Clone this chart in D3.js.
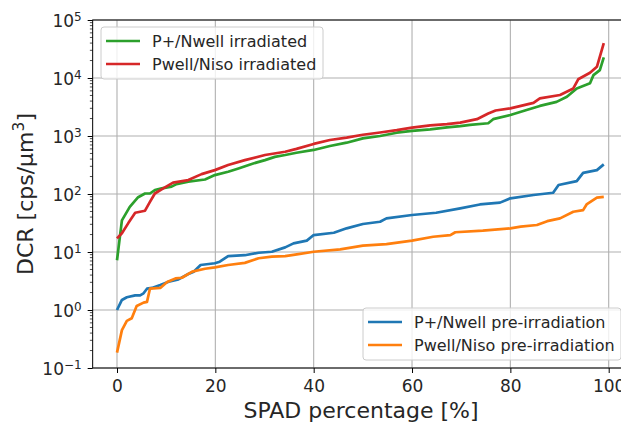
<!DOCTYPE html>
<html><head><meta charset="utf-8">
<script src="https://cdn.jsdelivr.net/npm/d3@7"></script>
<style>
html,body{margin:0;padding:0;background:#fff;overflow:hidden}
text{font-family:"DejaVu Sans",sans-serif;fill:#262626}
</style></head>
<body>
<svg id="chart" width="621" height="423"></svg>
<script>
// ---- data ----
const greenX = [0,1,2.6,4.3,5.7,6.7,7.7,9.1,11.1,12.1,14.5,17.9,19.9,22.6,24.7,27.4,30.1,32.1,34.2,36.5,40,43.3,46.7,50,53.5,56.9,60,63.7,67.1,69.8,71.8,75.5,76.5,80,83.3,86,89.4,91.5,93.5,96.2,96.9,98.2,99];
const greenY = [7.2,35,60,88,102,102,117,125,134,148,163,178,212,242,276,330,384,437,470,515,575,672,767,910,1000,1140,1230,1300,1410,1480,1550,1660,1950,2300,2810,3300,3880,4750,6600,8100,11200,13700,22700];
const redX = [0,1,2.3,3.7,5.7,6.7,7.7,9.4,11.4,14.5,17.2,19.9,22.6,26,30.1,34.2,36.5,40,43.3,46.7,50,53.5,56.9,60,63.7,67.1,69.8,73.2,75.5,77,80,84.7,86,90.1,92.8,93.8,96.2,97.6,99];
const redY = [17.2,21,31.5,47.5,51.5,73,102,125,157,174,220,258,316,384,470,535,600,730,853,935,1050,1150,1260,1390,1520,1600,1700,1950,2450,2750,3000,3720,4450,5100,6600,9500,12300,15600,40000];
const blueX = [0,1,2,3.7,4.7,5.4,6.1,7.1,8.8,10.5,12.5,14.5,15.6,17,19.9,20.9,22.6,26,28.8,31.5,34.2,35.9,38.6,40,44.1,46.7,50,53.5,54.8,60,64.9,69.8,73.8,77.9,80,84.7,88.7,89.8,93.5,94.8,97.6,99];
const blueY = [1.0,1.49,1.66,1.79,1.79,1.94,2.33,2.4,2.7,3.08,3.38,4.17,4.58,5.97,6.4,6.8,8.5,8.8,9.7,10.1,12.0,14.1,15.7,19.6,21.5,25.6,30.4,33.2,38,43.4,47.5,56.5,66,71,84.2,96,105,143,167,232,258,324];
const orangeX = [0,1,2,3,4,5.4,6.1,6.7,8.8,10.2,11.9,13.2,15.3,17.9,19.9,22.6,26,28.8,31.5,34.2,35.9,40,45.4,50,54.8,60,64.3,67.8,68.8,74.4,80,82.1,85.4,87.5,90.1,92.8,94.8,95.5,97.6,99];
const orangeY = [0.184,0.45,0.65,0.72,1.17,1.34,1.38,2.33,2.4,3.03,3.5,3.6,4.58,5.15,5.43,5.97,6.5,7.8,8.3,8.5,8.9,10.1,11.1,12.9,13.7,15.7,18.3,19.6,21.9,23.3,25.6,27.4,29.2,34,38,49.5,52.7,66,86.5,89];
const xTicks = [0,20,40,60,80,100];
const yTickExp = [-1,0,1,2,3,4,5];
const seriesNames = ["P+/Nwell pre-irradiation","Pwell/Niso pre-irradiation","P+/Nwell irradiated","Pwell/Niso irradiated"];
const colors = ["#1f77b4","#ff7f0e","#2ca02c","#d62728"];
const xLabel = "SPAD percentage [%]";
const yLabelMain = "DCR [cps/\u03bcm";
const yLabelSup = "3";
const yLabelEnd = "]";

const series = [
  {name: seriesNames[0], xs: blueX, ys: blueY, color: colors[0]},
  {name: seriesNames[1], xs: orangeX, ys: orangeY, color: colors[1]},
  {name: seriesNames[2], xs: greenX, ys: greenY, color: colors[2]},
  {name: seriesNames[3], xs: redX, ys: redY, color: colors[3]}
];

const svg = d3.select("#chart");
const x = d3.scaleLinear().domain([0,100]).range([117,608.7]);
const xMin = -4.95, xMax = 103.95;
const y = d3.scaleLog().domain([0.1,1e5]).range([368,20]);
const L = x(xMin), R = x(xMax), T = y(1e5), B = y(0.1);

// grid
const g = svg.append("g");
g.selectAll("line.gx").data(xTicks).enter().append("line")
  .attr("x1",d=>x(d)).attr("x2",d=>x(d)).attr("y1",T).attr("y2",B)
  .attr("stroke","#b0b0b0").attr("stroke-width",1.1);
g.selectAll("line.gy").data(yTickExp).enter().append("line")
  .attr("x1",L).attr("x2",R).attr("y1",d=>y(Math.pow(10,d))).attr("y2",d=>y(Math.pow(10,d)))
  .attr("stroke","#b0b0b0").attr("stroke-width",1.1);

// clip
svg.append("clipPath").attr("id","clip").append("rect").attr("x",L).attr("y",T).attr("width",R-L).attr("height",B-T);

const line = d3.line().x(d=>x(d[0])).y(d=>y(d[1]));
series.forEach(s=>{
  const pts = s.xs.map((v,i)=>[v,s.ys[i]]);
  svg.append("path").datum(pts).attr("d",line).attr("fill","none")
    .attr("stroke",s.color).attr("stroke-width",2.7).attr("stroke-linejoin","round")
    .attr("clip-path","url(#clip)");
});

// spines
svg.append("rect").attr("x",L).attr("y",T).attr("width",R-L).attr("height",B-T)
  .attr("fill","none").attr("stroke","#000").attr("stroke-width",1);

// x axis
const xa = svg.append("g").attr("transform",`translate(0,${B})`)
  .call(d3.axisBottom(x).tickValues(xTicks).tickSize(5).tickFormat(""));
xa.select(".domain").remove();
xa.selectAll(".tick text").remove();
xa.selectAll(".tick").append("text").attr("y",24).attr("text-anchor","middle")
  .style("font-size","17px").text(d=>String(d));

// y axis
const ya = svg.append("g").attr("transform",`translate(${L},0)`)
  .call(d3.axisLeft(y).tickValues(yTickExp.map(e=>Math.pow(10,e))).tickSize(5).tickFormat(""));
ya.select(".domain").remove();
ya.selectAll(".tick text").remove();
ya.selectAll(".tick").data(yTickExp).append("text")
  .attr("x",-11).attr("y",6.6).attr("text-anchor","end").style("font-size","17px")
  .each(function(e){
    const t = d3.select(this);
    t.append("tspan").text("10");
    t.append("tspan").attr("dy","-6.5").style("font-size","12px").text(e<0?"\u2212"+(-e):String(e));
  });
// minor ticks
const minors = [];
for (let e=-1;e<5;e++) for (let m=2;m<10;m++) minors.push(m*Math.pow(10,e));
svg.append("g").selectAll("line").data(minors).enter().append("line")
  .attr("x1",L-2.8).attr("x2",L).attr("y1",d=>y(d)).attr("y2",d=>y(d))
  .attr("stroke","#000").attr("stroke-width",0.7);

// axis labels
svg.append("text").attr("x",361).attr("y",418).attr("text-anchor","middle")
  .style("font-size","22px").text(xLabel);
const yl = svg.append("text").attr("transform",`translate(33,${(T+B)/2}) rotate(-90)`).attr("text-anchor","middle")
  .style("font-size","22px");
yl.append("tspan").text(yLabelMain);
yl.append("tspan").attr("dy","-9").style("font-size","15.5px").text(yLabelSup);
yl.append("tspan").attr("dy","9").text(yLabelEnd);

// legends
function legend(items, x0, y0, w, h){
  const lg = svg.append("g");
  lg.append("rect").attr("x",x0).attr("y",y0).attr("width",w).attr("height",h).attr("rx",3)
    .attr("fill","#fff").attr("fill-opacity",0.8).attr("stroke","#cccccc").attr("stroke-width",1);
  items.forEach((s,i)=>{
    const yy = y0 + 14 + i*23;
    lg.append("line").attr("x1",x0+5).attr("x2",x0+39).attr("y1",yy).attr("y2",yy)
      .attr("stroke",s.color).attr("stroke-width",2.7);
    lg.append("text").attr("x",x0+51).attr("y",yy).attr("dy","0.36em").style("font-size","16px").text(s.name);
  });
}
legend([series[2],series[3]], 101, 27, 222, 52);
legend([series[0],series[1]], 363, 308, 258, 52);
</script>
</body></html>
